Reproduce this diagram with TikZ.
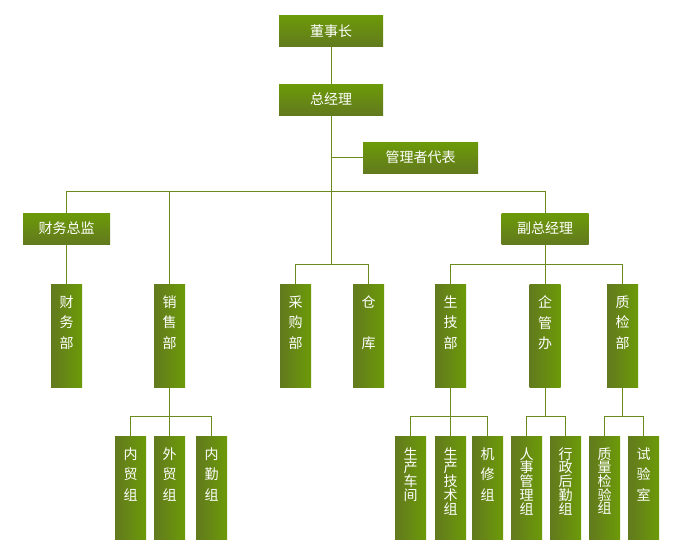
\documentclass[tikz,border=0pt]{standalone}
\usepackage{fontspec}
\setmainfont{Noto Sans CJK SC}
\usepackage{tikz}

\definecolor{topgreen}{HTML}{6C9A08}
\definecolor{botgreen}{HTML}{627A1E}
\definecolor{linegreen}{HTML}{6A8B1C}

\newcommand{\shu}[2][20.7pt]{\parbox[c][103pt][t]{31pt}{\centering\fontsize{14pt}{#1}\selectfont\vspace*{11.5pt}#2}}

\begin{document}
\begin{tikzpicture}[x=1pt, y=-1pt, color=linegreen, line width=1pt,
  hbar/.style={rectangle, minimum height=31pt, inner sep=0pt, text=white, font=\fontsize{14pt}{16pt}\selectfont, top color=topgreen, bottom color=botgreen},
  vbar/.style={rectangle, inner sep=0pt, text=white, left color=botgreen, right color=topgreen}]
  \useasboundingbox (0,0) rectangle (680,552);
  \node [hbar, minimum width=104pt] (dsz) at (331, 31) {董事长};
  \node [hbar, minimum width=104pt] (zjl) at (331, 99.5) {总经理};
  \node [hbar, minimum width=115pt] (glz) at (420.5, 157.5) {管理者代表};
  \node [hbar, minimum width=87pt] (cwzj) at (66.5, 228.5) {财务总监};
  \node [hbar, minimum width=87pt] (fzjl) at (545, 228.5) {副总经理};
  \node [vbar] (cwb) at (66.5, 335.5) {\shu{财\\务\\部}};
  \node [vbar] (xsb) at (169.5, 335.5) {\shu{销\\售\\部}};
  \node [vbar] (cgb) at (295.5, 335.5) {\shu{采\\购\\部}};
  \node [vbar] (ck) at (368.5, 335.5) {\shu{仓\\[20.7pt]库}};
  \node [vbar] (sjb) at (450.5, 335.5) {\shu{生\\技\\部}};
  \node [vbar] (qgb) at (545, 335.5) {\shu{企\\管\\办}};
  \node [vbar] (zjb) at (622.5, 335.5) {\shu{质\\检\\部}};
  \node [vbar] (nmz) at (130.5, 487.5) {\shu{内\\贸\\组}};
  \node [vbar] (wmz) at (169.5, 487.5) {\shu{外\\贸\\组}};
  \node [vbar] (nqz) at (211.5, 487.5) {\shu{内\\勤\\组}};
  \node [vbar] (scj) at (410.5, 487.5) {\shu[13.7pt]{生\\产\\车\\间}};
  \node [vbar] (jsz) at (450.5, 487.5) {\shu[13.7pt]{生\\产\\技\\术\\组}};
  \node [vbar] (jxz) at (487.5, 487.5) {\shu{机\\修\\组}};
  \node [vbar] (rsz) at (526.5, 487.5) {\shu[13.7pt]{人\\事\\管\\理\\组}};
  \node [vbar] (xhz) at (565.5, 487.5) {\shu[13.7pt]{行\\政\\后\\勤\\组}};
  \node [vbar] (zlz) at (604.5, 487.5) {\shu[13.7pt]{质\\量\\检\\验\\组}};
  \node [vbar] (syz) at (643.5, 487.5) {\shu{试\\验\\室}};
  % bus points
  \coordinate (zbus) at (331, 191.5);
  \coordinate (cgbus) at (331, 264.5);
  \coordinate (fzbus) at (545, 264.5);
  \coordinate (xsbus) at (169.5, 416.5);
  \coordinate (sjbus) at (450.5, 416.5);
  \coordinate (qgbus) at (545, 416.5);
  \coordinate (zjbus) at (622.5, 416.5);
  \draw (dsz) -- (zjl);
  \draw (zjl.south) -- (cgbus);
  \draw (glz.west) -| (zjl.south);
  \draw (cwzj.north) |- (zbus) -| (fzjl.north);
  \draw (xsb.north) |- (zbus);
  \draw (cwzj.south) -- (cwb.north);
  \draw (cgb.north) |- (cgbus) -| (ck.north);
  \draw (fzjl.south) -- (qgb.north);
  \draw (sjb.north) |- (fzbus) -| (zjb.north);
  \draw (xsb.south) -- (wmz.north);
  \draw (nmz.north) |- (xsbus) -| (nqz.north);
  \draw (sjb.south) -- (jsz.north);
  \draw (scj.north) |- (sjbus) -| (jxz.north);
  \draw (qgb.south) -- (qgbus);
  \draw (rsz.north) |- (qgbus) -| (xhz.north);
  \draw (zjb.south) -- (zjbus);
  \draw (zlz.north) |- (zjbus) -| (syz.north);
\end{tikzpicture}
\end{document}
